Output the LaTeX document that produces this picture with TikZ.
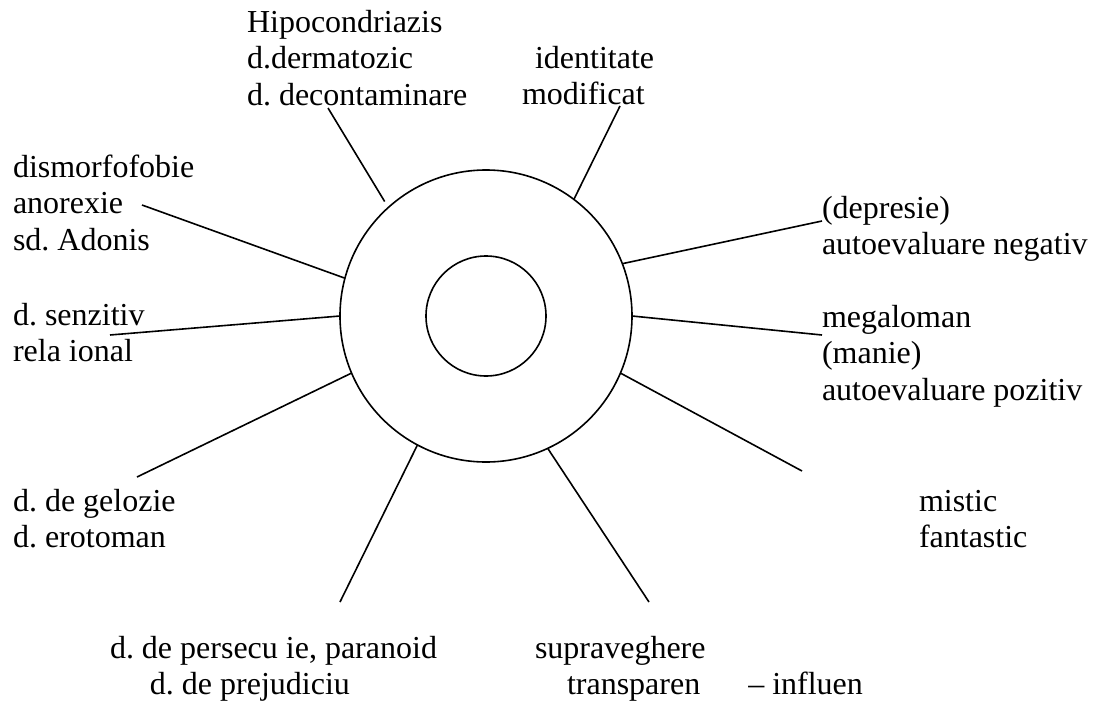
\documentclass[tikz,border=0pt]{standalone}
\usepackage{fontspec}
\setmainfont{Liberation Serif}
\frenchspacing
\newcommand\lblstrut{\rule{0pt}{14pt}}
\begin{document}
\begin{tikzpicture}[x=0.5pt,y=-0.5pt,
  ring/.style={circle,draw,line width=0.8pt,inner sep=0pt,outer sep=0pt},
  lbl/.style={anchor=north west,inner sep=0pt,outer sep=0pt,align=left,
    font=\fontsize{16}{18.25}\selectfont},
  spoke/.style={line width=0.8pt}]
\useasboundingbox (0,0) rectangle (1094,702);

% central rings
\node[ring,minimum size=146pt] (outer) at (486,316) {};
\node[ring,minimum size=60pt] (inner) at (486,316) {};

% labels (first baseline sits 28 units below the node's top)
\node[lbl] (hip) at (247,4) {\lblstrut Hipocondriazis\\d.dermatozic\\d. decontaminare};
\node[lbl] (ident) at (522,40) {\lblstrut\hspace*{6.5pt}identitate\\modificat};
\node[lbl] (dism) at (13,149) {\lblstrut dismorfofobie\\anorexie\\sd. Adonis};
\node[lbl] (senz) at (13,297) {\lblstrut d. senzitiv\\rela ional};
\node[lbl] (gel) at (13,483) {\lblstrut d. de gelozie\\d. erotoman};
\node[lbl] (pers) at (110,630) {\lblstrut d. de persecu ie, paranoid\\\hspace*{20pt}d. de prejudiciu};
\node[lbl] (supr) at (535,630) {\lblstrut supraveghere\\\hspace*{16pt}transparen\hspace{24pt}– influen};
\node[lbl] (mist) at (919,483) {\lblstrut mistic\\fantastic};
\node[lbl] (depr) at (822,190) {\lblstrut (depresie)\\autoevaluare negativ};
\node[lbl] (mega) at (822,299) {\lblstrut megaloman\\(manie)\\autoevaluare pozitiv};

% outer ends of the spokes
\coordinate (e1) at (328,108);
\coordinate (e2) at (620,106);
\coordinate (e3) at (142,205);
\coordinate (e4) at (110,335);
\coordinate (e5) at (137,477);
\coordinate (e6) at (340,602);
\coordinate (e7) at (649,602);
\coordinate (e8) at (802,471);
\coordinate (e9) at (822,335);
\coordinate (e10) at (822,221);

% spokes from the outer ring
\draw[spoke,shorten <=3.5pt] (outer.132) -- (e1);
\draw[spoke] (outer.53) -- (e2);
\draw[spoke] (outer.165) -- (e3);
\draw[spoke] (outer.180) -- (e4);
\draw[spoke] (outer.203) -- (e5);
\draw[spoke] (outer.242) -- (e6);
\draw[spoke] (outer.295) -- (e7);
\draw[spoke] (outer.337) -- (e8);
\draw[spoke] (outer.0) -- (e9);
\draw[spoke] (outer.21) -- (e10);
\end{tikzpicture}
\end{document}
